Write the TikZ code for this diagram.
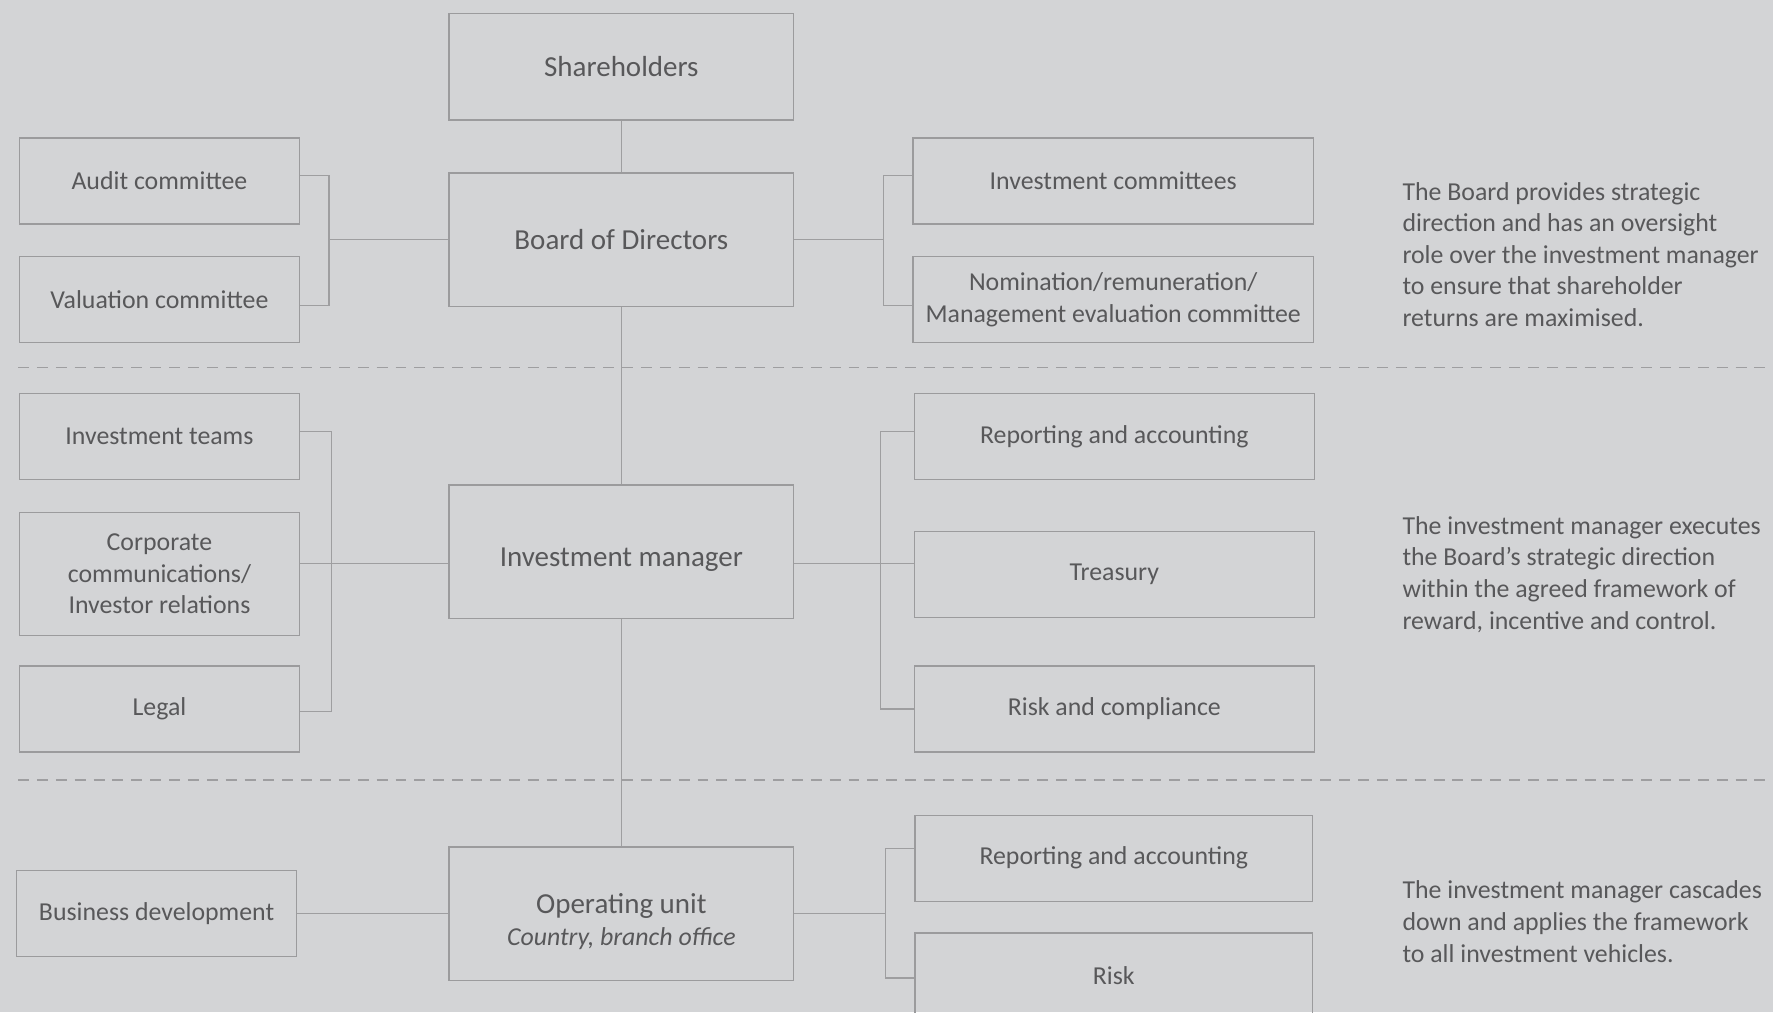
\documentclass[tikz,border=0pt]{standalone}
\usepackage{fontspec}
\setmainfont{Carlito}

\definecolor{bgcol}{RGB}{211,212,214}
\definecolor{boxcol}{RGB}{155,155,157}
\definecolor{linecol}{RGB}{158,158,160}
\definecolor{txtcol}{RGB}{88,88,90}

\tikzset{
    box/.style={draw=boxcol, line width=0.7pt, text=txtcol, align=center, inner sep=0pt,
        font=\fontsize{13}{15.9}\selectfont},
    lbox/.style={box, minimum width=4.96cm, minimum height=1.52cm},
    rbox/.style={box, minimum width=7.08cm, minimum height=1.52cm},
    mbox/.style={box, minimum width=6.1cm, minimum height=2.36cm, font=\fontsize{14.6}{15.9}\selectfont},
    link/.style={draw=linecol, line width=0.6pt},
    sep/.style={draw=linecol, line width=0.8pt, dash pattern=on 5.5pt off 4pt},
    note/.style={anchor=west, align=left, text=txtcol, inner sep=0pt, font=\fontsize{13}{15.9}\selectfont}
}

\newcommand{\lowered}[1]{\raisebox{-4pt}[\height][\depth]{#1}}

\begin{document}
\begin{tikzpicture}[x=0.02cm, y=-0.02cm]

    % Background, page size
    \fill[bgcol] (0,0) rectangle (1568,895);
    \useasboundingbox (0,0) rectangle (1568,895);

    % Level separators
    \foreach \y in {325,690}
        \draw[sep] (16,\y) -- (1568,\y);

    % Board level
    \node[mbox, minimum height=1.88cm] (sh) at (549.5,59) {Shareholders};
    \node[mbox] (brd) at (549.5,212) {Board of Directors};
    \node[lbox] (aud) at (141,160) {Audit committee};
    \node[lbox] (val) at (141,265) {Valuation committee};
    \node[rbox] (ic) at (984.5,160) {Investment committees};
    \node[rbox] (nom) at (984.5,265) {Nomination/remuneration/\\Management evaluation committee};

    % Manager level
    \node[mbox] (im) at (549.5,488) {\lowered{Investment manager}};
    \node[lbox] (it) at (141,386) {Investment teams};
    \node[lbox, minimum height=2.18cm] (cor) at (141,507.5) {Corporate\\communications/\\Investor relations};
    \node[lbox] (leg) at (141,627) {Legal};
    \node[rbox] (ra) at (985.5,386) {Reporting and accounting};
    \node[rbox] (tr) at (985.5,508) {Treasury};
    \node[rbox] (rc) at (985.5,627) {Risk and compliance};

    % Operating level
    \node[mbox] (ou) at (549.5,808) {\lowered{Operating unit}\\\lowered{\fontsize{13}{15.9}\selectfont\itshape Country, branch office}};
    \node[lbox] (bd) at (138.5,808) {Business development};
    \node[rbox, minimum width=7.04cm] (ra2) at (985,759) {Reporting and accounting};
    \node[rbox, minimum width=7.04cm] (rk) at (985,863) {Risk};

    % Spine
    \draw[link] (sh) -- (brd);
    \draw[link] (brd) -- (im);
    \draw[link] (im) -- (ou);

    % Brackets
    \coordinate (bl) at (291,212);
    \coordinate (br) at (781,212);
    \draw[link] ([yshift=2.8pt]aud.east) -| (bl) |- ([yshift=-2.8pt]val.east);
    \draw[link] (brd.west) -- (bl);
    \draw[link] ([yshift=2.8pt]ic.west) -| (br) |- ([yshift=-2.8pt]nom.west);
    \draw[link] (brd.east) -- (br);

    \coordinate (il) at (293,498);
    \coordinate (ir) at (779,498);
    \draw[link] ([yshift=2.3pt]it.east) -| (il) |- ([yshift=-1.1pt]leg.east);
    \draw[link] (cor.east |- il) -- (im.west |- il);
    \draw[link] ([yshift=2.3pt]ra.west) -| (ir) |- (rc.west);
    \draw[link] (im.east |- ir) -- (tr.west |- ir);

    \coordinate (or) at (783,808);
    \draw[link] (bd.east) -- (ou.west);
    \draw[link] ([yshift=5.1pt]ra2.west) -| (or) |- ([yshift=-1.1pt]rk.west);
    \draw[link] (ou.east) -- (or);

    % Notes on the right
    \node[note] (n1) at (1240,225) {The Board provides strategic\\direction and has an oversight\\role over the investment manager\\to ensure that shareholder\\returns are maximised.};
    \node[note] (n2) at (1240,508) {The investment manager executes\\the Board’s strategic direction\\within the agreed framework of\\reward, incentive and control.};
    \node[note] (n3) at (1240,815) {The investment manager cascades\\down and applies the framework\\to all investment vehicles.};

\end{tikzpicture}
\end{document}
